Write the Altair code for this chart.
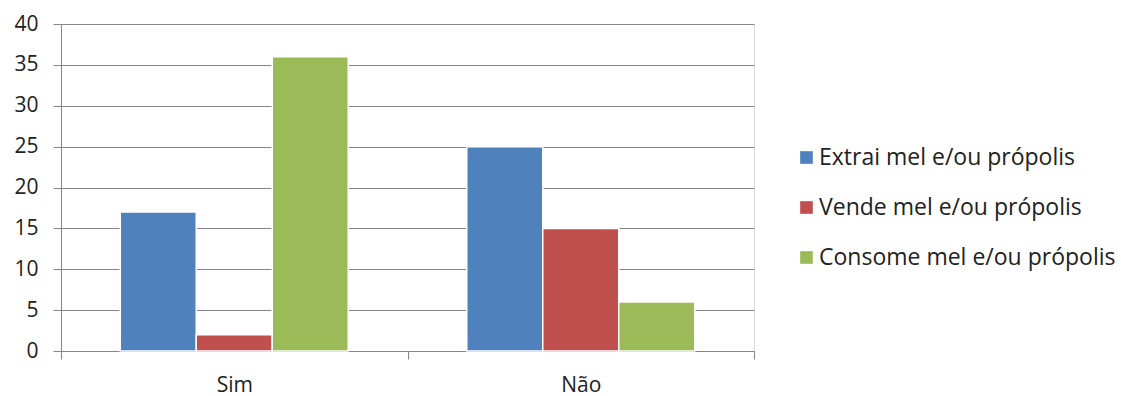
import altair as alt
import pandas as pd

categories = ["Sim", "Não"]
series = ["Extrai mel e/ou própolis", "Vende mel e/ou própolis", "Consome mel e/ou própolis"]
extrai = [17, 25]
vende = [2, 15]
consome = [36, 6]
colors = ["#4F81BD", "#C0504D", "#9BBB59"]

rows = []
for name, vals in zip(series, [extrai, vende, consome]):
    for cat, v in zip(categories, vals):
        rows.append({"categoria": cat, "serie": name, "valor": v})
df = pd.DataFrame(rows)

font = "Open Sans"
text_color = "#222222"
line_color = "#868686"

bars = alt.Chart(df).mark_bar(stroke="white", strokeWidth=1.5).encode(
    x=alt.X(
        "categoria:N",
        sort=categories,
        scale=alt.Scale(paddingInner=0, paddingOuter=0),
        axis=alt.Axis(
            title=None, labelAngle=0, tickBand="extent", tickSize=8,
            labelPadding=15, labelFontSize=21, labelFont=font, labelColor=text_color,
            domainColor=line_color, tickColor=line_color, grid=False,
        ),
    ),
    xOffset=alt.XOffset(
        "serie:N", sort=series,
        scale=alt.Scale(paddingInner=0, paddingOuter=0.78),
    ),
    y=alt.Y(
        "valor:Q",
        scale=alt.Scale(domain=[0, 40]),
        axis=alt.Axis(
            title=None, values=list(range(0, 45, 5)), tickSize=8, labelPadding=15,
            labelFontSize=21, labelFont=font, labelColor=text_color,
            domainColor=line_color, tickColor=line_color, gridColor=line_color,
        ),
    ),
    color=alt.Color(
        "serie:N",
        sort=series,
        scale=alt.Scale(domain=series, range=colors),
        legend=alt.Legend(
            title=None, orient="none", legendX=734, legendY=122,
            symbolType="square", symbolSize=160, symbolStrokeWidth=0,
            labelFontSize=23, labelFont=font, labelColor=text_color,
            labelOffset=1, rowPadding=26, labelLimit=400,
        ),
    ),
)

chart = bars.properties(
    width=693, height=327,
    autosize=alt.AutoSizeParams(type="none"),
    padding={"left": 61, "top": 24, "right": 367, "bottom": 45},
).configure_view(stroke=None).configure(background="white")

chart.save("out.html", embed_options={"renderer": "svg", "actions": False})
